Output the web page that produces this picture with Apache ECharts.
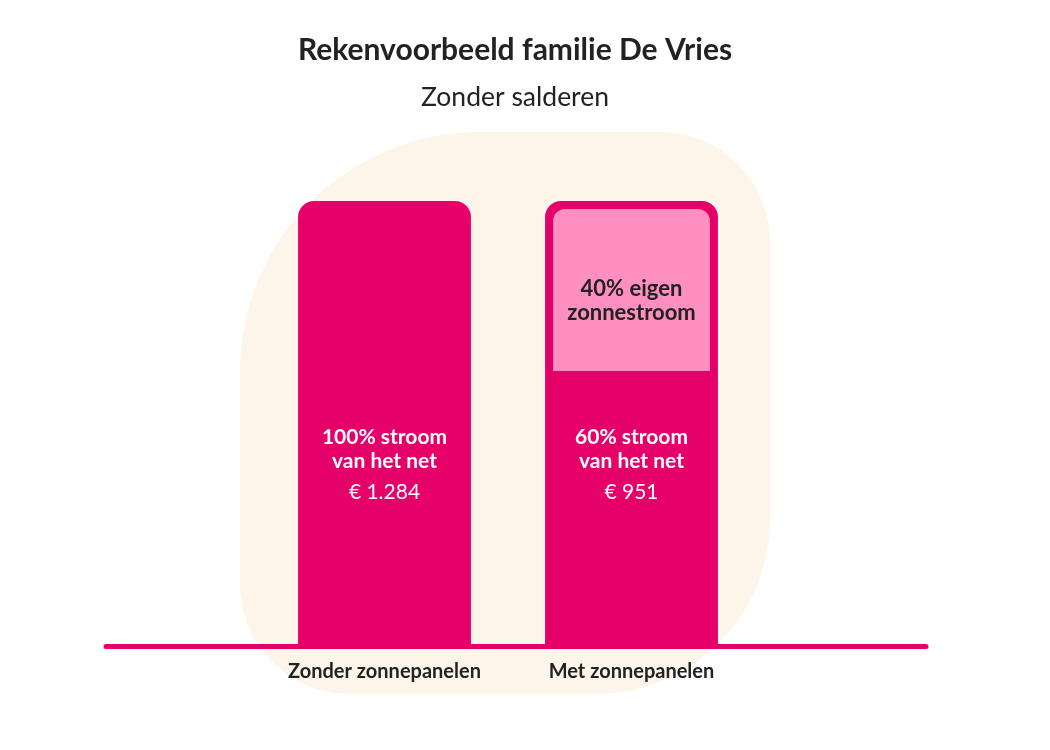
<!DOCTYPE html>
<html><head><meta charset="utf-8">
<script src="https://cdn.jsdelivr.net/npm/echarts@6/dist/echarts.min.js"></script>
<style>html,body{margin:0;padding:0;background:#fff}#c{width:1050px;height:750px}</style>
</head><body><div id="c"></div>
<script>
// ---- data ----
const categories = ['Zonder zonnepanelen', 'Met zonnepanelen'];
const gridShare = [100, 60];          // % stroom van het net
const ownShare = [0, 40];             // % eigen zonnestroom
const costs = [1284, 951];            // € per jaar
const gridLabels = ['100% stroom\nvan het net', '60% stroom\nvan het net'];
const ownLabels = ['', '40% eigen\nzonnestroom'];

const DARK = '#E5006A';
const LIGHT = '#FF8FC1';
const TEXT = '#222222';
const FONT = 'Lato, "Noto Sans", sans-serif';

function euro(n) {
  return '€ ' + String(n).replace(/\B(?=(\d{3})+(?!\d))/g, '.');
}

const LABEL_ANCHOR = 49.7; // y-value where the grid label block starts

function renderItem(params, api) {
  const i = api.value(0);
  const g = api.value(1), o = api.value(2);
  const base = api.coord([i, 0]);
  const top = api.coord([i, g + o]);
  const split = api.coord([i, g]);
  const lab = api.coord([i, LABEL_ANCHOR]);
  const bw = api.size([1, 0])[0] * 0.7;
  const x = base[0] - bw / 2;
  const children = [{
    type: 'rect',
    shape: { x: x, y: top[1], width: bw, height: base[1] - top[1], r: [16, 16, 0, 0] },
    style: { fill: DARK }
  }];
  if (o > 0) {
    const b = 8;
    children.push({
      type: 'rect',
      shape: { x: x + b, y: top[1] + b, width: bw - 2 * b, height: split[1] - top[1] - 2 * b, r: [12, 12, 0, 0] },
      style: { fill: LIGHT }
    });
    children.push({
      type: 'text',
      style: {
        text: ownLabels[i], x: base[0], y: (top[1] + split[1]) / 2 + 11,
        align: 'center', verticalAlign: 'middle', fill: TEXT,
        fontFamily: FONT, fontWeight: 'bold', fontSize: 22, lineHeight: 24
      }
    });
  }
  const lines = gridLabels[i].split('\n').map(l => '{b|' + l + '}').join('\n') + '\n{n|' + euro(costs[i]) + '}';
  children.push({
    type: 'text',
    style: {
      text: lines, x: base[0], y: lab[1], align: 'center', verticalAlign: 'top', fill: '#fff',
      rich: {
        b: { fill: '#fff', fontFamily: FONT, fontWeight: 'bold', fontSize: 21, lineHeight: 24, align: 'center' },
        n: { fill: '#fff', fontFamily: FONT, fontWeight: 'normal', fontSize: 21, lineHeight: 38, align: 'center' }
      }
    }
  });
  return { type: 'group', children: children };
}

const chart = echarts.init(document.getElementById('c'), null, { renderer: 'canvas' });
chart.setOption({
  backgroundColor: '#ffffff',
  animation: false,
  title: [
    { text: 'Rekenvoorbeeld familie De Vries', left: 515, textAlign: 'center', top: 33, padding: 0,
      textStyle: { fontFamily: FONT, fontWeight: 'bold', fontSize: 30, color: TEXT, lineHeight: 34 } },
    { text: 'Zonder salderen', left: 515, textAlign: 'center', top: 81, padding: 0,
      textStyle: { fontFamily: FONT, fontWeight: 'normal', fontSize: 26.5, color: TEXT, lineHeight: 32 } }
  ],
  graphic: [{
    type: 'rect', z: -10, silent: true,
    shape: { x: 240, y: 132, width: 530, height: 562, r: [240, 110, 175, 110] },
    style: { fill: '#FEF5EA' }
  }],
  grid: [
    { left: 261, right: 295, top: 201, bottom: 104 },
    { left: 106, right: 124, top: 201, bottom: 104 }
  ],
  xAxis: [
    { type: 'category', gridIndex: 0, data: categories,
      axisLine: { show: false }, axisTick: { show: false }, splitLine: { show: false },
      axisLabel: { interval: 0, hideOverlap: false, margin: 15, fontFamily: FONT, fontWeight: 'bold', fontSize: 20, color: TEXT, lineHeight: 22 } },
    { type: 'value', gridIndex: 1, min: 0, max: 1,
      axisLine: { show: true, onZero: false, lineStyle: { color: DARK, width: 5, cap: 'round' } },
      axisTick: { show: false }, axisLabel: { show: false }, splitLine: { show: false } }
  ],
  yAxis: [
    { type: 'value', gridIndex: 0, min: 0, max: 100, show: false },
    { type: 'value', gridIndex: 1, min: 0, max: 1, show: false }
  ],
  series: [{
    type: 'custom',
    xAxisIndex: 0, yAxisIndex: 0,
    clip: false,
    renderItem: renderItem,
    encode: { x: 0, y: [1, 2] },
    data: categories.map((c, i) => [i, gridShare[i], ownShare[i]])
  }]
});
</script>
</body></html>
